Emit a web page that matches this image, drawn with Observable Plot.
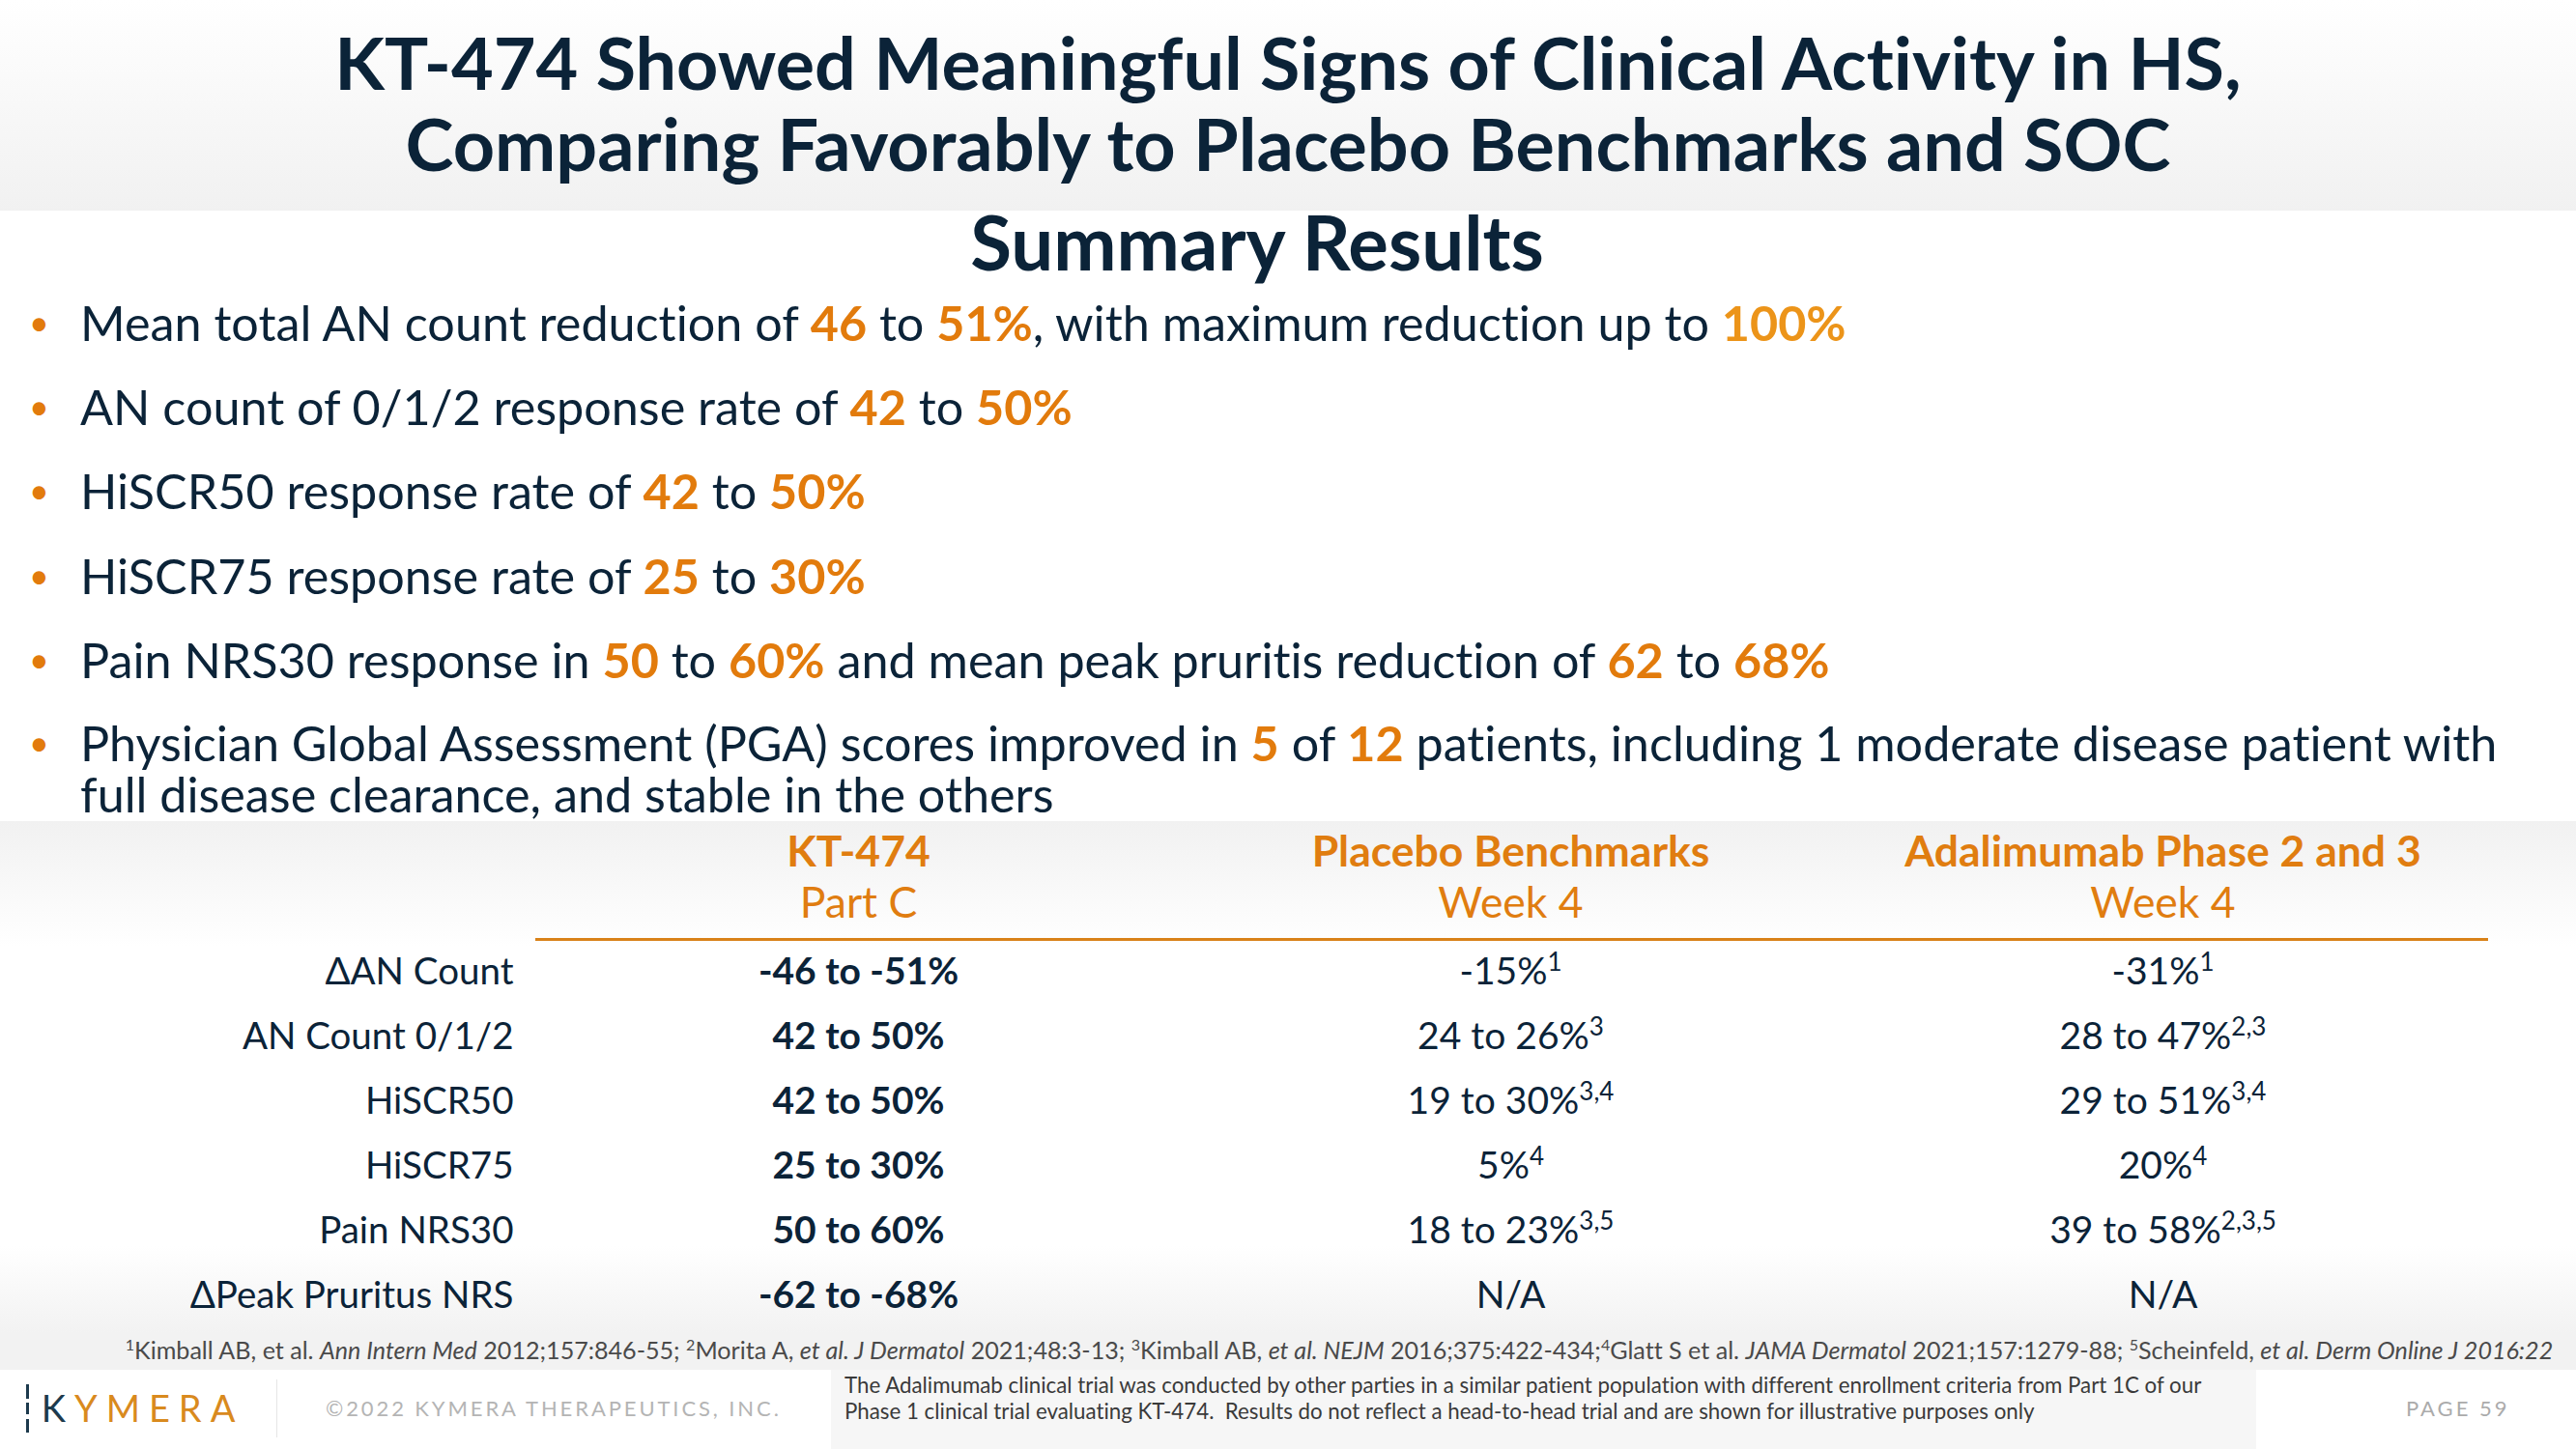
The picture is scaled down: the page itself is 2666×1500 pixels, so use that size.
<!DOCTYPE html>
<html>
<head>
<meta charset="utf-8">
<script src="https://cdn.jsdelivr.net/npm/d3@7"></script>
<script src="https://cdn.jsdelivr.net/npm/@observablehq/plot@0.6"></script>
<style>
  html, body { margin: 0; padding: 0; }
  body { width: 2666px; height: 1500px; position: relative; overflow: hidden; background: #fff; font-family: Lato, "Open Sans", sans-serif; color: #0b2338; font-variant-ligatures: none; }
  .abs { position: absolute; }
  #titleband { left: 0; top: 0; width: 2666px; height: 218px; background: linear-gradient(#ffffff, #f1f1f1); }
  #title { left: 0; top: 22px; width: 2666px; text-align: center; font-size: 75.5px; line-height: 84px; font-weight: 700; }
  #summary { left: 0; top: 208px; width: 2602px; text-align: center; font-size: 78px; line-height: 84px; font-weight: 700; }
  .bullet { position: absolute; left: 0; padding-left: 83px; font-size: 50.3px; line-height: 53px; white-space: nowrap; }
  .bullet::before { content: "•"; position: absolute; left: 30px; top: 0; color: #e27b0c; font-size: 36px; }
  .o { color: #e27b0c; font-weight: 700; }
  .o2 { color: #ec9419; font-weight: 700; }
  #tablewrap { left: 0; top: 850px; width: 2666px; height: 530px; background: linear-gradient(#f1f1f1 0px, #ffffff 130px, #ffffff 440px, #f2f2f2 530px); }
  #foot { left: 0; top: 1380px; width: 2666px; height: 38px; background: #f2f2f2; }
  #footnote { left: 0; top: 1380px; width: 2772px; text-align: center; font-size: 25.1px; line-height: 34px; color: #4a4a4a; white-space: nowrap; }
  #footnote sup { font-size: 16px; vertical-align: 9px; line-height: 0; }
  #logo { left: 24px; top: 1434px; font-size: 38px; line-height: 46px; letter-spacing: 9px; color: #d98a1e; }
  #logo .k { color: #1d3a4d; }
  #logobar { left: 27px; top: 1433px; width: 3px; height: 50px; background: linear-gradient(#1d3a4d 0 30%, transparent 30% 38%, #1d3a4d 38% 62%, transparent 62% 72%, #1d3a4d 72%); }
  #divider { left: 286px; top: 1428px; width: 1px; height: 60px; background: #e6e6e6; }
  #copy { left: 337px; top: 1444px; font-size: 22px; line-height: 28px; letter-spacing: 2.9px; color: #b4b4b4; }
  #disc { left: 860px; top: 1418px; width: 1475px; height: 82px; background: #f6f6f6; }
  #disctext { left: 874px; top: 1420px; font-size: 22.3px; line-height: 27px; color: #3a3a3a; white-space: nowrap; }
  #page { left: 2490px; top: 1444px; font-size: 22px; line-height: 28px; letter-spacing: 3px; color: #ababab; }
</style>
</head>
<body>
<div id="titleband" class="abs"></div>
<div id="title" class="abs">KT-474 Showed Meaningful Signs of Clinical Activity in HS,<br>Comparing Favorably to Placebo Benchmarks and SOC</div>
<div id="summary" class="abs">Summary Results</div>
<div class="bullet" style="top:307px">Mean total AN count reduction of <span class="o">46</span> to <span class="o">51%</span>, with maximum reduction up to <span class="o2">100%</span></div>
<div class="bullet" style="top:394px">AN count of 0/1/2 response rate of <span class="o">42</span> to <span class="o">50%</span></div>
<div class="bullet" style="top:481px">HiSCR50 response rate of <span class="o">42</span> to <span class="o">50%</span></div>
<div class="bullet" style="top:569px">HiSCR75 response rate of <span class="o">25</span> to <span class="o">30%</span></div>
<div class="bullet" style="top:656px">Pain NRS30 response in <span class="o">50</span> to <span class="o">60%</span> and mean peak pruritis reduction of <span class="o">62</span> to <span class="o">68%</span></div>
<div class="bullet" style="top:742px">Physician Global Assessment (PGA) scores improved in <span class="o">5</span> of <span class="o">12</span> patients, including 1 moderate disease patient with<br>full disease clearance, and stable in the others</div>
<div id="tablewrap" class="abs"></div>
<div id="foot" class="abs"></div>
<div id="footnote" class="abs"><sup>1</sup>Kimball AB, et al. <i>Ann Intern Med</i> 2012;157:846-55; <sup>2</sup>Morita A, <i>et al. J Dermatol</i> 2021;48:3-13; <sup>3</sup>Kimball AB, <i>et al. NEJM</i> 2016;375:422-434;<sup>4</sup>Glatt S et al. <i>JAMA Dermatol</i> 2021;157:1279-88; <sup>5</sup>Scheinfeld, <i>et al. Derm Online J 2016:22</i></div>
<div id="logobar" class="abs"></div>
<div id="logo" class="abs">&nbsp;<span class="k">K</span>YMERA</div>
<div id="divider" class="abs"></div>
<div id="copy" class="abs">©2022 KYMERA THERAPEUTICS, INC.</div>
<div id="disc" class="abs"></div>
<div id="disctext" class="abs">The Adalimumab clinical trial was conducted by other parties in a similar patient population with different enrollment criteria from Part 1C of our<br>Phase 1 clinical trial evaluating KT-474.&nbsp; Results do not reflect a head-to-head trial and are shown for illustrative purposes only</div>
<div id="page" class="abs">PAGE 59</div>

<script>
// ---- data ----
const columns = ["KT-474", "Placebo Benchmarks", "Adalimumab Phase 2 and 3"];
const columnSub = ["Part C", "Week 4", "Week 4"];
const rowLabels = ["ΔAN Count", "AN Count 0/1/2", "HiSCR50", "HiSCR75", "Pain NRS30", "ΔPeak Pruritus NRS"];
const kt474 = ["-46 to -51%", "42 to 50%", "42 to 50%", "25 to 30%", "50 to 60%", "-62 to -68%"];
const placebo = ["-15%", "24 to 26%", "19 to 30%", "5%", "18 to 23%", "N/A"];
const placeboRefs = ["1", "3", "3,4", "4", "3,5", ""];
const adalimumab = ["-31%", "28 to 47%", "29 to 51%", "20%", "39 to 58%", "N/A"];
const adalimumabRefs = ["1", "2,3", "3,4", "4", "2,3,5", ""];

const navy = "#0b2338";
const orange = "#e07d10";

const headers = columns.map((c, i) => ({col: c, sub: columnSub[i]}));
const ktCells = rowLabels.map((r, i) => ({row: r, col: columns[0], text: kt474[i]}));
const otherCells = [
  ...rowLabels.map((r, i) => ({row: r, col: columns[1], text: placebo[i] + (placeboRefs[i] ? "^" + placeboRefs[i] : "")})),
  ...rowLabels.map((r, i) => ({row: r, col: columns[2], text: adalimumab[i] + (adalimumabRefs[i] ? "^" + adalimumabRefs[i] : "")}))
];

const chart = Plot.plot({
  width: 2666,
  height: 530,
  marginLeft: 888,
  marginRight: 428,
  marginTop: 155,
  marginBottom: 39,
  x: {type: "point", domain: columns, padding: 0, axis: null},
  y: {type: "point", domain: rowLabels, padding: 0, axis: null},
  style: {background: "transparent", fontFamily: "Lato, 'Open Sans', sans-serif", color: navy, overflow: "visible", fontVariantLigatures: "none"},
  marks: [
    Plot.text(headers, {x: "col", frameAnchor: "top", lineAnchor: "middle", dy: -123, text: "col", fontSize: 44.5, fontWeight: "bold", fill: orange}),
    Plot.text(headers, {x: "col", frameAnchor: "top", lineAnchor: "middle", dy: -70, text: "sub", fontSize: 44.5, fill: orange}),
    Plot.ruleY([rowLabels[0]], {dy: -34, insetLeft: -334, insetRight: -337, stroke: "#d98219", strokeWidth: 3}),
    Plot.text(rowLabels, {x: () => columns[0], y: d => d, text: d => d, textAnchor: "end", dx: -357, fontSize: 38.5, fill: navy}),
    Plot.text(ktCells, {x: "col", y: "row", text: "text", fontSize: 39, fontWeight: "bold", fill: navy}),
    Plot.text(otherCells, {x: "col", y: "row", text: "text", fontSize: 39, fill: navy})
  ]
});

// superscript references
chart.querySelectorAll("text").forEach(t => {
  const s = t.textContent;
  if (s.includes("^")) {
    const [main, sup] = s.split("^");
    while (t.firstChild) t.removeChild(t.firstChild);
    const a = document.createElementNS("http://www.w3.org/2000/svg", "tspan");
    a.textContent = main;
    const b = document.createElementNS("http://www.w3.org/2000/svg", "tspan");
    b.textContent = sup;
    b.setAttribute("font-size", "26");
    b.setAttribute("dy", "-14");
    t.appendChild(a);
    t.appendChild(b);
  }
});

document.getElementById("tablewrap").appendChild(chart);
</script>
</body>
</html>
